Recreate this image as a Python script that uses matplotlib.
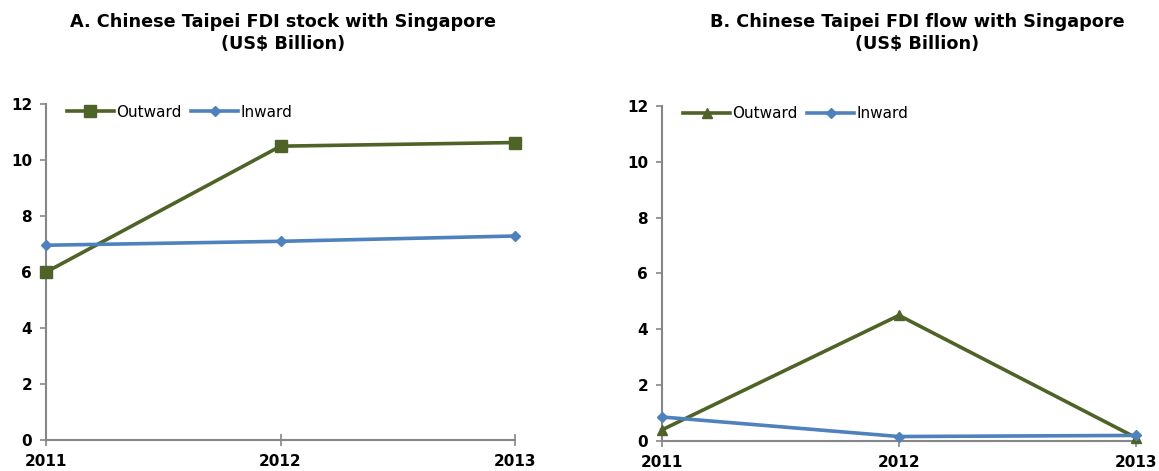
import matplotlib
matplotlib.use("Agg")
import matplotlib.pyplot as plt

years = [2011, 2012, 2013]
stock_outward = [6.0, 10.5, 10.63]
stock_inward = [6.96, 7.1, 7.29]
flow_outward = [0.4, 4.5, 0.12]
flow_inward = [0.86, 0.16, 0.2]

titles = ["A. Chinese Taipei FDI stock with Singapore\n(US$ Billion)",
          "B. Chinese Taipei FDI flow with Singapore\n(US$ Billion)"]

GREEN = "#4F6228"
BLUE = "#4F81BD"
GREY = "#868686"

fig = plt.figure(figsize=(11.59, 4.71), dpi=100)
ax1 = fig.add_axes([0.0397, 0.0658, 0.4047, 0.713])
ax2 = fig.add_axes([0.5712, 0.0637, 0.4089, 0.7113])

panels = [(ax1, stock_outward, stock_inward, "s", 283),
          (ax2, flow_outward, flow_inward, "^", 917)]

for i, (ax, out, inw, mk, tx) in enumerate(panels):
    ax.plot(years, out, color=GREEN, lw=2.6, marker=mk, markersize=8 if mk == "s" else 7,
            label="Outward", clip_on=False, zorder=3)
    ax.plot(years, inw, color=BLUE, lw=2.6, marker="D", markersize=5,
            label="Inward", clip_on=False, zorder=4)
    ax.set_xlim(2011, 2013)
    ax.set_ylim(0, 12)
    ax.set_xticks(years)
    ax.set_yticks(range(0, 13, 2))
    for s in ["top", "right"]:
        ax.spines[s].set_visible(False)
    for s in ["left", "bottom"]:
        ax.spines[s].set_color(GREY)
        ax.spines[s].set_linewidth(1.5)
    ax.tick_params(axis="y", direction="out", length=4, color=GREY, width=1.2,
                   labelsize=11, pad=6)
    ax.tick_params(axis="x", direction="inout", length=8, color=GREY, width=1.2,
                   labelsize=11, pad=6)
    for lab in ax.get_xticklabels() + ax.get_yticklabels():
        lab.set_fontweight("bold")
    ax.legend(loc="upper left", ncol=2, frameon=False, fontsize=11,
              bbox_to_anchor=(0.015, 1.04), handlelength=3.1, columnspacing=0.6,
              handletextpad=0.15)
    fig.text(tx / 1159, 1 - 33 / 471, titles[i], ha="center", va="center",
             fontsize=12.7, fontweight="bold", linespacing=1.3)

fig.savefig("out.png", dpi=100)
